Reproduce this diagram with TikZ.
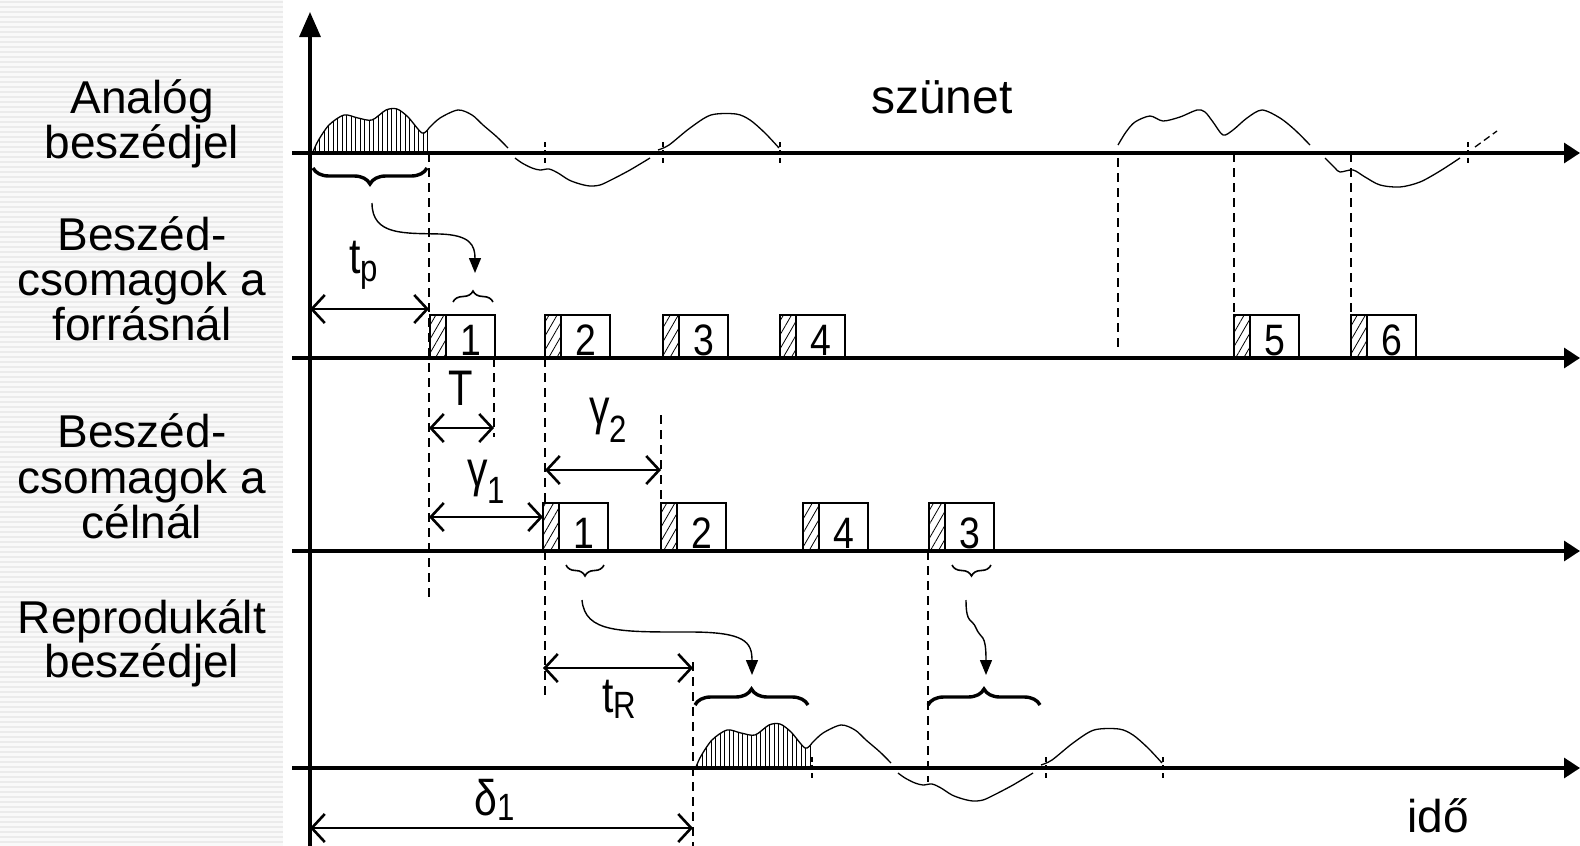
\documentclass[tikz,border=0pt]{standalone}
\usepackage{fontspec}
\setmainfont{Liberation Sans}
\usetikzlibrary{arrows.meta,decorations.pathreplacing,patterns.meta}
\newcommand\dimlab[3]{{\fontsize{50}{50}\selectfont\scalebox{0.82}[1]{#1}}\raisebox{-#3}{\fontsize{38}{38}\selectfont\scalebox{0.82}[1]{#2}}}
\newcommand\pkt[5]{%
  \path[hatch] (#1,#2) rectangle (#1+16,#3);
  \draw[pbox] (#1,#3) -- (#1,#2) -- (#1+65,#2) -- (#1+65,#3);
  \draw[pbox] (#1+16,#2) -- (#1+16,#3);
  \node[digit] (#5) at (#1+41,#3-3) {\scalebox{0.85}[1]{#4}};
}
\newcommand\speech{%
  \path[vhatch] plot[smooth] coordinates {(313,153) (318,141) (329,125) (344,115) (358,118) (372,120) (386,110) (397,109) (408,117) (422,133) (429,128)} -- (429,153) -- cycle;
  \draw[sig] plot[smooth] coordinates {(313,152) (318,141) (329,125) (344,115) (358,118) (372,120) (386,110) (397,109) (408,117) (422,133) (429,128)};
  \draw[sig] plot[smooth] coordinates {(429,128) (440,118) (458,110) (472,115) (483,125) (497,137) (508,148)};
  \draw[sig] plot[smooth] coordinates {(515,158) (522,163) (532,168) (540,170) (549,169) (558,173) (569,180) (580,184) (590,186) (600,185) (611,180) (630,170) (650,158)};
  \draw[sig] plot[smooth] coordinates {(658,150) (669,145) (690,128) (711,115) (736,114) (750,120) (765,133) (779,148)};
}
\begin{document}
\begin{tikzpicture}[x=1pt,y=-1pt,
  axis/.style={line width=3.2pt,-{Triangle[length=16pt,width=20pt]}},
  dline/.style={line width=1.8pt,dash pattern=on 9pt off 6pt},
  tickm/.style={line width=1.2pt,dash pattern=on 5pt off 3pt},
  dim/.style={line width=2.6pt,{Straight Barb[length=13pt,width=28pt]}-{Straight Barb[length=13pt,width=28pt]}},
  sig/.style={line width=1.3pt},
  pbox/.style={line width=1.3pt},
  hatch/.style={pattern={Lines[angle=60,distance=7pt,line width=0.8pt]}},
  vhatch/.style={pattern={Lines[angle=90,distance=4.5pt,line width=0.8pt]}},
  bigbrace/.style={decorate,decoration={brace,amplitude=16pt},line width=3.4pt},
  smallbrace/.style={decorate,decoration={brace,amplitude=11pt},line width=1.6pt},
  carrow/.style={line width=1.4pt,-{Triangle[length=15pt,width=12pt]}},
  lbl/.style={font=\fontsize{46}{46}\selectfont,anchor=base,inner sep=0pt},
  digit/.style={font=\fontsize{44}{44}\selectfont,anchor=base,inner sep=0pt},
  mlab/.style={anchor=base west,inner sep=0pt},
]
\useasboundingbox (0,0) rectangle (1580,846);
\fill[white] (0,0) rectangle (1580,846);
% striped left panel
\fill[gray!5] (0,0) rectangle (283,846);
\foreach \yy in {2,7,...,846} \draw[gray!16,line width=2pt] (0,\yy) -- (283,\yy);
% left labels
\node[lbl] (a1) at (142,113) {Analóg};
\node[lbl] (a2) at (142,158) {beszédjel};
\node[lbl] (f1) at (142,250) {Beszéd-};
\node[lbl] (f2) at (142,295) {csomagok a};
\node[lbl] (f3) at (142,340) {forrásnál};
\node[lbl] (c1) at (142,447) {Beszéd-};
\node[lbl] (c2) at (142,493) {csomagok a};
\node[lbl] (c3) at (142,538) {célnál};
\node[lbl] (r1) at (142,633) {Reprodukált};
\node[lbl] (r2) at (142,677) {beszédjel};
% axes
\draw[line width=3.2pt,-{Triangle[length=25pt,width=21pt]}] (310,846) -- (310,12);
\foreach \yy in {153,358,551,768} \draw[axis] (292,\yy) -- (1580,\yy);
% analog signal
\speech
\draw[sig] plot[smooth] coordinates {(1118,145) (1126,132) (1135,122) (1150,116) (1163,121) (1180,117) (1197,110) (1205,112) (1213,122) (1223,135) (1233,130) (1247,118) (1262,110) (1280,118) (1295,130) (1310,145)};
\draw[sig] plot[smooth] coordinates {(1325,158) (1335,168) (1340,172) (1353,170) (1365,177) (1380,185) (1400,187) (1420,182) (1440,171) (1460,158)};
\draw[sig,dash pattern=on 7pt off 4pt] (1475,147) -- (1497,131);
% reproduced signal
\begin{scope}[shift={(383,615)}]
\speech
\end{scope}
% ticks
\foreach \xx in {545,663,780,1468} \draw[tickm] (\xx,142) -- (\xx,165);
\foreach \xx in {812,1046,1163} \draw[tickm] (\xx,757) -- (\xx,780);
% dashed lines
\draw[dline] (429,153) -- (429,597);
\draw[dline] (494,358) -- (494,437);
\draw[dline] (545,358) -- (545,503);
\draw[dline] (545,551) -- (545,695);
\draw[dline] (661,415) -- (661,503);
\draw[dline] (693,662) -- (693,846);
\draw[dline] (928,551) -- (928,782);
\draw[dline] (1118,158) -- (1118,350);
\draw[dline] (1234,153) -- (1234,315);
\draw[dline] (1351,153) -- (1351,315);
% packets at source
\pkt{430}{315}{358}{1}{s1}
\pkt{545}{315}{358}{2}{s2}
\pkt{663}{315}{358}{3}{s3}
\pkt{780}{315}{358}{4}{s4}
\pkt{1234}{315}{358}{5}{s5}
\pkt{1351}{315}{358}{6}{s6}
% packets at destination
\pkt{543}{503}{551}{1}{d1}
\pkt{661}{503}{551}{2}{d2}
\pkt{803}{503}{551}{4}{d4}
\pkt{929}{503}{551}{3}{d3}
% braces
\draw[bigbrace] (427,168) -- (313,168);
\draw[bigbrace] (695,705) -- (808,705);
\draw[bigbrace] (928,705) -- (1040,705);
\draw[smallbrace] (453,302) -- (493,302);
\draw[smallbrace] (604,565) -- (566,565);
\draw[smallbrace] (991,565) -- (952,565);
% curved arrows
\coordinate (ca1) at (372,203); \coordinate (ct1) at (475,273);
\coordinate (ca2) at (582,600); \coordinate (ct2) at (752,675);
\coordinate (ca3) at (966,600); \coordinate (ct3) at (986,675);
\draw[carrow] (ca1) .. controls (372,236) and (405,233) .. (440,234) .. controls (470,235) and (475,245) .. (ct1);
\draw[carrow] (ca2) .. controls (585,633) and (620,632) .. (690,632) .. controls (745,632) and (752,642) .. (ct2);
\draw[carrow] (ca3) .. controls (966,625) and (972,618) .. (976,628) .. controls (981,640) and (986,632) .. (ct3);
% dimension arrows
\draw[dim] (310,309) -- (429,309);
\draw[dim] (429,428) -- (494,428);
\draw[dim] (545,470) -- (661,470);
\draw[dim] (429,517) -- (543,517);
\draw[dim] (543,668) -- (693,668);
\draw[dim] (310,828) -- (693,828);
% dimension labels
\node[mlab] (ltp) at (349,273) {\dimlab{t}{p}{8pt}};
\node[mlab] (lT) at (448,405) {\fontsize{50}{50}\selectfont\scalebox{0.8}[1]{T}};
\node[mlab] (lg2) at (589,424) {\dimlab{γ}{2}{18pt}};
\node[mlab] (lg1) at (467,486) {\dimlab{γ}{1}{17pt}};
\node[mlab] (ltR) at (602,712) {\dimlab{t}{R}{6pt}};
\node[mlab] (ld1) at (474,815) {\dimlab{δ}{1}{5pt}};
% other texts
\node[font=\fontsize{48}{48}\selectfont,anchor=base,inner sep=0pt] (sz) at (942,113) {szünet};
\node[font=\fontsize{46}{46}\selectfont,anchor=base,inner sep=0pt] (ido) at (1438,832) {idő};
\end{tikzpicture}
\end{document}
